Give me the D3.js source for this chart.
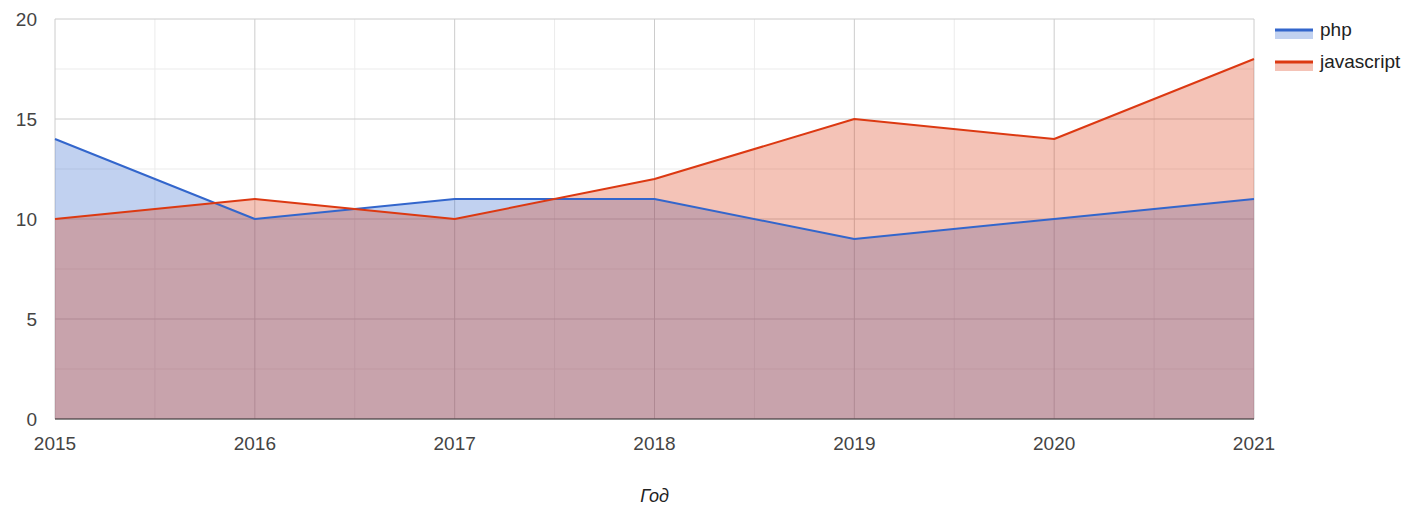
<!DOCTYPE html>
<html>
<head>
<meta charset="utf-8">
<script src="https://cdn.jsdelivr.net/npm/d3@7"></script>
<style>
  html, body { margin: 0; padding: 0; background: #fff; }
  svg { display: block; font-family: "Liberation Sans", Arial, sans-serif; }
</style>
</head>
<body>
<svg id="chart" width="1409" height="508"></svg>
<script>
const years = [2015, 2016, 2017, 2018, 2019, 2020, 2021];
const phpValues = [14, 10, 11, 11, 9, 10, 11];
const jsValues = [10, 11, 10, 12, 15, 14, 18];
const seriesNames = ["php", "javascript"];
const seriesColors = ["#3366cc", "#dc3912"];
const yTicks = [0, 5, 10, 15, 20];
const xTitle = "Год";

const series = [
  { name: seriesNames[0], values: phpValues, color: seriesColors[0] },
  { name: seriesNames[1], values: jsValues, color: seriesColors[1] }
];

const svg = d3.select("#chart");
const m = { left: 55, right: 1254, top: 19, bottom: 419 };

const x = d3.scaleLinear().domain([years[0], years[years.length - 1]]).range([m.left, m.right]);
const y = d3.scaleLinear().domain([0, 20]).range([m.bottom, m.top]);

const grid = svg.append("g");
// minor gridlines
const minorY = d3.range(0, 20, 2.5).filter(v => v % 5 !== 0);
grid.selectAll("line.my").data(minorY).enter().append("line")
  .attr("x1", m.left).attr("x2", m.right)
  .attr("y1", d => y(d)).attr("y2", d => y(d))
  .attr("stroke", "#ebebeb").attr("stroke-width", 1);
const minorX = years.slice(0, -1).map(v => v + 0.5);
grid.selectAll("line.mx").data(minorX).enter().append("line")
  .attr("x1", d => x(d)).attr("x2", d => x(d))
  .attr("y1", m.top).attr("y2", m.bottom)
  .attr("stroke", "#ebebeb").attr("stroke-width", 1);
// major gridlines
grid.selectAll("line.My").data(yTicks).enter().append("line")
  .attr("x1", m.left).attr("x2", m.right)
  .attr("y1", d => y(d)).attr("y2", d => y(d))
  .attr("stroke", "#cccccc").attr("stroke-width", 1);
grid.selectAll("line.Mx").data(years).enter().append("line")
  .attr("x1", d => x(d)).attr("x2", d => x(d))
  .attr("y1", m.top).attr("y2", m.bottom)
  .attr("stroke", "#cccccc").attr("stroke-width", 1);

// areas
const area = d3.area()
  .x((d, i) => x(years[i]))
  .y0(y(0))
  .y1(d => y(d));
const line = d3.line()
  .x((d, i) => x(years[i]))
  .y(d => y(d));

series.forEach(s => {
  svg.append("path")
    .attr("d", area(s.values))
    .attr("fill", s.color)
    .attr("fill-opacity", 0.3);
});
series.forEach(s => {
  svg.append("path")
    .attr("d", line(s.values))
    .attr("fill", "none")
    .attr("stroke", s.color)
    .attr("stroke-width", 2)
    .attr("stroke-linejoin", "round");
});

// baseline
svg.append("line")
  .attr("x1", m.left).attr("x2", m.right)
  .attr("y1", y(0)).attr("y2", y(0))
  .attr("stroke", "#333333").attr("stroke-width", 1);

// y axis labels
svg.append("g").selectAll("text").data(yTicks).enter().append("text")
  .attr("x", 37).attr("y", d => y(d) + 7)
  .attr("text-anchor", "end")
  .attr("font-size", 19)
  .attr("fill", "#444444")
  .text(d => d);

// x axis labels
svg.append("g").selectAll("text").data(years).enter().append("text")
  .attr("x", d => x(d)).attr("y", 450)
  .attr("text-anchor", "middle")
  .attr("font-size", 19)
  .attr("fill", "#444444")
  .text(d => d);

// x axis title
svg.append("text")
  .attr("x", (m.left + m.right) / 2).attr("y", 502)
  .attr("text-anchor", "middle")
  .attr("font-size", 18)
  .attr("font-style", "italic")
  .attr("fill", "#222222")
  .text(xTitle);

// legend
const legend = svg.append("g");
series.forEach((s, i) => {
  const ly = 30 + i * 32;
  legend.append("rect")
    .attr("x", 1275).attr("y", ly)
    .attr("width", 38).attr("height", 9)
    .attr("fill", s.color).attr("fill-opacity", 0.3);
  legend.append("line")
    .attr("x1", 1275).attr("x2", 1313)
    .attr("y1", ly).attr("y2", ly)
    .attr("stroke", s.color).attr("stroke-width", 3);
  legend.append("text")
    .attr("x", 1320).attr("y", ly + 6)
    .attr("font-size", 19)
    .attr("fill", "#222222")
    .text(s.name);
});
</script>
</body>
</html>
